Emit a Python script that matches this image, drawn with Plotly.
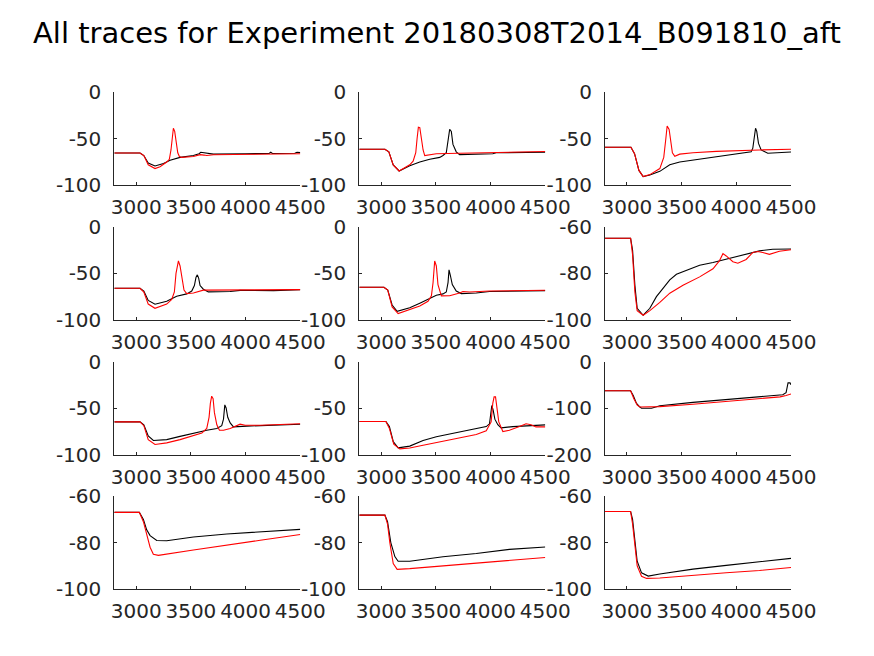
import plotly.graph_objects as go

# ---------------- data (time in ms, membrane potential in mV) ----------------
title_text = "All traces for Experiment 20180308T2014_B091810_aft"
x_ticks = [3000, 3500, 4000, 4500]

# row 1, col 1
t11k = [2800, 3035, 3070, 3110, 3172, 3250, 3310, 3401, 3523, 3575, 3590, 3620, 3706, 4000, 4215, 4230, 4245, 4450, 4470, 4500]
v11k = [-65.2, -65.2, -68, -76, -79.2, -76.5, -73, -70, -68, -66, -64.5, -65, -66.5, -66, -65.8, -64.5, -65.8, -65.6, -64.5, -64.8]
t11r = [2800, 3035, 3070, 3110, 3172, 3218, 3279, 3303, 3318, 3330, 3340, 3352, 3365, 3380, 3395, 3416, 3523, 3584, 3620, 3645, 3706, 4500]
v11r = [-65.2, -65.2, -68, -78, -82, -80, -75, -72, -62, -45, -38.7, -42, -55, -65, -69, -70, -69, -67, -67.5, -68, -67.2, -66]
# row 1, col 2
t12k = [2800, 3034, 3070, 3110, 3164, 3261, 3353, 3444, 3535, 3565, 3595, 3610, 3626, 3641, 3656, 3686, 3717, 4020, 4051, 4500]
v12k = [-61.3, -61.3, -64, -78, -84.6, -79, -75, -72, -70, -68, -65, -55, -39.8, -42, -56, -64, -67, -66, -65, -64.5]
t12r = [2800, 3034, 3070, 3110, 3164, 3261, 3292, 3316, 3328, 3340, 3353, 3368, 3383, 3398, 3474, 3504, 3717, 4051, 4500]
v12r = [-61.3, -61.3, -64, -78, -84.6, -78, -74, -65, -50, -37.6, -38, -50, -62, -68, -67, -66, -65.5, -64.5, -63.6]
# row 1, col 3
t13k = [2800, 3037, 3070, 3110, 3149, 3210, 3301, 3392, 3483, 3604, 3756, 3908, 4060, 4136, 4151, 4166, 4176, 4187, 4203, 4227, 4257, 4288, 4500]
v13k = [-59.1, -59.1, -66, -84, -90.7, -89, -85, -78, -75, -73, -70.5, -68, -66, -64, -60, -45, -38.7, -42, -55, -62, -64, -65.5, -64.2]
t13r = [2800, 3037, 3070, 3110, 3149, 3210, 3301, 3337, 3356, 3368, 3386, 3401, 3416, 3438, 3483, 3604, 3817, 4212, 4379, 4500]
v13r = [-59.1, -59.1, -66, -84, -90.7, -88.5, -82, -70, -50, -36.2, -40, -55, -65, -68.8, -66.5, -65, -63.5, -62, -61.5, -61.3]
# row 2, col 1
t21k = [2800, 3035, 3070, 3110, 3172, 3279, 3370, 3462, 3508, 3532, 3547, 3559, 3571, 3584, 3614, 3660, 3859, 3950, 4256, 4500]
v21k = [-66, -66, -69, -79, -83.2, -80, -74.5, -72, -69, -63, -54, -51.6, -55, -63, -67, -69.9, -69.5, -68.3, -68.5, -67.5]
t21r = [2800, 3035, 3070, 3110, 3172, 3279, 3325, 3349, 3364, 3386, 3401, 3416, 3437, 3462, 3523, 3614, 4500]
v21r = [-66, -66, -70, -83, -87.5, -83, -78, -70, -50, -36.6, -42, -55, -68, -71.7, -71, -68, -67.5]
# row 2, col 2
t22k = [2800, 3025, 3060, 3100, 3146, 3261, 3353, 3444, 3504, 3565, 3595, 3611, 3620, 3632, 3650, 3686, 3732, 3869, 3990, 4500]
v22k = [-64.9, -64.9, -68, -84, -90.7, -87, -82, -77, -73.5, -72, -70, -60, -46.2, -52, -62, -69, -71.7, -71, -69.5, -68.5]
t22r = [2800, 3025, 3060, 3100, 3155, 3261, 3353, 3428, 3459, 3474, 3489, 3504, 3519, 3550, 3626, 3717, 3747, 3808, 3990, 4500]
v22r = [-64.9, -64.9, -68, -86, -93.2, -89, -85, -80, -74, -60, -36.6, -42, -62, -74.2, -74, -71, -69.5, -70, -69, -68.1]
# row 2, col 3
t23k = [2800, 3034, 3052, 3073, 3094, 3149, 3210, 3270, 3301, 3392, 3453, 3513, 3665, 3787, 3908, 4060, 4212, 4333, 4500]
v23k = [-64.9, -64.9, -70, -85, -95, -98, -95, -90, -88.2, -82.8, -80.4, -79.2, -76.5, -75.3, -73.9, -72, -70.3, -69.6, -69.5]
t23r = [2800, 3034, 3052, 3073, 3094, 3149, 3210, 3301, 3392, 3513, 3665, 3787, 3847, 3878, 3908, 3969, 4014, 4090, 4151, 4197, 4242, 4303, 4394, 4500]
v23r = [-64.9, -64.9, -72, -88, -96, -98, -96, -92.5, -88.5, -85.1, -81.5, -78, -74.5, -71.5, -72.5, -75, -75.6, -74, -71, -70.6, -71, -71.8, -70.5, -69.8]
# row 3, col 1
t31k = [2800, 3035, 3070, 3110, 3157, 3279, 3401, 3523, 3645, 3737, 3782, 3798, 3810, 3822, 3837, 3859, 3889, 4011, 4134, 4317, 4500]
v31k = [-64.9, -64.9, -68, -80, -84.9, -84, -80.5, -77, -74, -72, -69, -62, -46.6, -50, -60, -66, -70.3, -69.5, -69, -67.5, -67.5]
t31r = [2800, 3035, 3070, 3110, 3172, 3279, 3401, 3523, 3600, 3645, 3666, 3678, 3690, 3703, 3715, 3737, 3761, 3798, 3859, 3950, 3996, 4134, 4500]
v31r = [-64.9, -64.9, -69, -84, -89.2, -87.5, -84, -80, -77, -72, -60, -45, -37.3, -40, -55, -68, -74, -74, -72, -67.4, -68.5, -68.5, -67]
# row 3, col 2
t32k = [2800, 3043, 3075, 3110, 3155, 3261, 3383, 3504, 3626, 3747, 3869, 3960, 3990, 4002, 4011, 4023, 4039, 4066, 4096, 4203, 4324, 4500]
v32k = [-64.5, -64.5, -70, -86, -92.8, -91, -85, -81, -78, -75, -72, -70, -67, -55, -47.3, -52, -62, -68, -71.3, -70, -69.5, -68.1]
t32r = [2800, 3043, 3075, 3115, 3170, 3261, 3383, 3565, 3747, 3869, 3960, 4005, 4020, 4032, 4045, 4057, 4075, 4112, 4172, 4264, 4324, 4370, 4415, 4500]
v32r = [-64.5, -64.5, -72, -89, -93.9, -93, -90, -86, -81.5, -78.5, -74.5, -65, -45, -38, -38, -50, -65, -75.3, -74, -70, -67, -68, -70.3, -70.3]
# row 3, col 3
t33k = [2800, 3034, 3058, 3088, 3119, 3134, 3225, 3301, 3604, 3908, 4212, 4425, 4455, 4467, 4473, 4491, 4500]
v33k = [-63, -63, -73, -90, -98, -100.5, -100.5, -95, -88, -82, -76.5, -71.5, -67, -55, -46, -46, -50]
t33r = [2800, 3034, 3064, 3095, 3119, 3301, 3604, 3908, 4212, 4400, 4455, 4500]
v33r = [-63, -63, -80, -94, -97.8, -97, -92, -86.5, -81, -76, -73, -70]
# row 4, col 1
t41k = [2800, 3029, 3066, 3096, 3127, 3188, 3279, 3523, 3828, 4134, 4378, 4500]
v41k = [-67, -67, -70, -74.5, -77, -79.1, -79.2, -77.6, -76.3, -75.5, -74.9, -74.3]
t41r = [2800, 3029, 3066, 3096, 3127, 3157, 3203, 3523, 3828, 4134, 4500]
v41r = [-67, -67, -71, -77, -82, -85, -85.5, -83.2, -81, -79, -76.5]
# row 4, col 2
t42k = [2800, 3034, 3058, 3088, 3125, 3155, 3261, 3565, 3869, 4172, 4500]
v42k = [-68.2, -68.2, -71, -80, -86, -88, -88, -86.1, -84.7, -82.9, -81.9]
t42r = [2800, 3034, 3058, 3079, 3110, 3146, 3261, 3565, 3869, 4172, 4500]
v42r = [-68.2, -68.2, -72, -80, -89, -91.5, -91.2, -90, -88.8, -87.5, -86.4]
# row 4, col 3
t43k = [2800, 3034, 3052, 3073, 3094, 3134, 3195, 3301, 3604, 3908, 4212, 4500]
v43k = [-66.6, -66.6, -70, -78, -88, -93, -94.4, -93.5, -91.4, -89.8, -88.4, -86.8]
t43r = [2800, 3034, 3052, 3073, 3094, 3134, 3180, 3301, 3604, 3908, 4212, 4500]
v43r = [-66.6, -66.6, -72, -82, -90, -94.5, -95.4, -95.2, -94, -93, -92, -90.7]

# per-panel y ticks
yt_a = [-100, -50, 0]
yt_b = [-100, -80, -60]
yt_c = [-200, -100, 0]

panels = [
    (1, 1, t11k, v11k, t11r, v11r, yt_a), (1, 2, t12k, v12k, t12r, v12r, yt_a), (1, 3, t13k, v13k, t13r, v13r, yt_a),
    (2, 1, t21k, v21k, t21r, v21r, yt_a), (2, 2, t22k, v22k, t22r, v22r, yt_a), (2, 3, t23k, v23k, t23r, v23r, yt_b),
    (3, 1, t31k, v31k, t31r, v31r, yt_a), (3, 2, t32k, v32k, t32r, v32r, yt_a), (3, 3, t33k, v33k, t33r, v33r, yt_c),
    (4, 1, t41k, v41k, t41r, v41r, yt_b), (4, 2, t42k, v42k, t42r, v42r, yt_b), (4, 3, t43k, v43k, t43r, v43r, yt_b),
]

# ---------------- layout geometry ----------------
W, H = 874, 656
col_left = [114.3, 359.3, 605.0]
col_width = 186.0
row_top = [92.3, 226.9, 361.5, 496.1]
row_height = 93.0
FONT = "DejaVu Sans"
INK = "#262626"

fig = go.Figure()
layout = dict(
    width=W, height=H, margin=dict(l=0, r=0, t=0, b=0, autoexpand=False),
    paper_bgcolor="white", plot_bgcolor="white", showlegend=False,
    font=dict(family=FONT, size=20, color=INK),
)

for i, (r, c, tk, vk, tr, vr, yt) in enumerate(panels, start=1):
    xa = "x" if i == 1 else f"x{i}"
    ya = "y" if i == 1 else f"y{i}"
    fig.add_trace(go.Scatter(x=tk, y=vk, mode="lines", line=dict(color="black", width=1.1),
                             xaxis=xa, yaxis=ya, hoverinfo="skip"))
    fig.add_trace(go.Scatter(x=tr, y=vr, mode="lines", line=dict(color="red", width=1.1),
                             xaxis=xa, yaxis=ya, hoverinfo="skip"))
    x0 = col_left[c - 1] / W
    x1 = (col_left[c - 1] + col_width) / W
    y1 = 1 - row_top[r - 1] / H
    y0 = 1 - (row_top[r - 1] + row_height) / H
    common = dict(showgrid=False, zeroline=False, showline=True, linecolor=INK, linewidth=1,
                  ticks="inside", ticklen=3, tickwidth=1, tickcolor=INK, automargin=False,
                  tickfont=dict(family=FONT, size=20, color=INK), mirror=False, tickangle=0)
    layout["xaxis" if i == 1 else f"xaxis{i}"] = dict(
        domain=[x0, x1], range=[2800, 4500], tickvals=x_ticks, ticktext=[str(v) for v in x_ticks],
        anchor=ya, ticklabelstandoff=4, **common)
    layout["yaxis" if i == 1 else f"yaxis{i}"] = dict(
        domain=[y0, y1], range=[yt[0], yt[-1]], tickvals=yt, ticktext=[str(v) for v in yt],
        anchor=xa, ticklabelstandoff=8, **common)

layout["annotations"] = [dict(text=title_text, x=0.5, y=1 - 33 / H, xref="paper", yref="paper",
                              xanchor="center", yanchor="middle", showarrow=False,
                              font=dict(family=FONT, size=29, color="black"))]
fig.update_layout(**layout)
fig.write_html("out.html")
